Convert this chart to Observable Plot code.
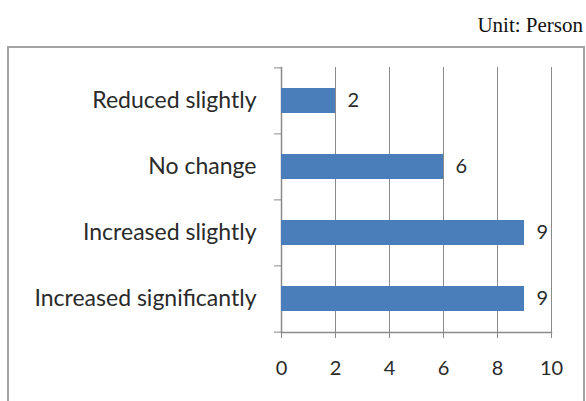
<!DOCTYPE html>
<html>
<head>
<meta charset="utf-8">
<script src="https://cdn.jsdelivr.net/npm/d3@7"></script>
<script src="https://cdn.jsdelivr.net/npm/@observablehq/plot@0.6"></script>
<style>
  html, body { margin: 0; padding: 0; background: #fff; }
  #wrap { position: relative; width: 586px; height: 401px; overflow: hidden; }
  #unit {
    position: absolute; right: 3px; top: 13px;
    font-family: "Liberation Serif", "Times New Roman", serif;
    font-size: 21px; color: #111;
  }
  #box {
    position: absolute; left: 7px; top: 46px; width: 574px; height: 400px;
    border: 2px solid #a3a3a3; border-bottom: none;
  }
  #chart { position: absolute; left: 0; top: 0; }
</style>
</head>
<body>
<div id="wrap">
  <div id="unit">Unit: Person</div>
  <div id="box"></div>
  <div id="chart"></div>
</div>
<script>
// Survey responses, top to bottom
const categories = ["Reduced slightly", "No change", "Increased slightly", "Increased significantly"];
const counts = [2, 6, 9, 9];
const xTicks = [0, 2, 4, 6, 8, 10];

const rows = categories.map((c, i) => ({category: c, count: counts[i]}));

const font = "Lato, 'Open Sans', sans-serif";
const ink = "#2a2a2a";
const gridColor = "#8a8a8a";
const step = (332 - 67) / categories.length;

const chart = Plot.plot({
  width: 586,
  height: 401,
  marginLeft: 281,
  marginRight: 35,
  marginTop: 67,
  marginBottom: 69,
  style: {fontFamily: font, fontSize: "20px", color: ink, background: "transparent"},
  x: {domain: [0, 10], ticks: xTicks},
  y: {domain: categories, paddingInner: 0.62, paddingOuter: 0.31},
  marks: [
    // vertical gridlines
    Plot.gridX(xTicks.filter(d => d > 0), {stroke: gridColor, strokeOpacity: 1, strokeWidth: 1}),
    // axis lines
    Plot.frame({anchor: "left", stroke: gridColor, strokeWidth: 1.5}),
    Plot.frame({anchor: "bottom", stroke: gridColor, strokeWidth: 1.5}),
    // x ticks and labels
    Plot.axisX(xTicks, {tickSize: 6, tickPadding: 22, stroke: gridColor, label: null, fontSize: 20, fill: ink}),
    // category labels
    Plot.axisY({tickSize: 0, tickPadding: 25, label: null, fontSize: 23, fill: ink}),
    // category boundary ticks
    Plot.axisY({tickSize: 7, dy: -step / 2, text: null, label: null, stroke: gridColor}),
    Plot.axisY([categories[categories.length - 1]], {tickSize: 7, dy: step / 2, text: null, label: null, stroke: gridColor}),
    // bars
    Plot.barX(rows, {x: "count", y: "category", fill: "#4A7EBB"}),
    // value labels
    Plot.text(rows, {x: "count", y: "category", text: d => String(d.count), dx: 12, textAnchor: "start", fontSize: 20, fill: ink})
  ]
});

document.getElementById("chart").appendChild(chart);
</script>
</body>
</html>
